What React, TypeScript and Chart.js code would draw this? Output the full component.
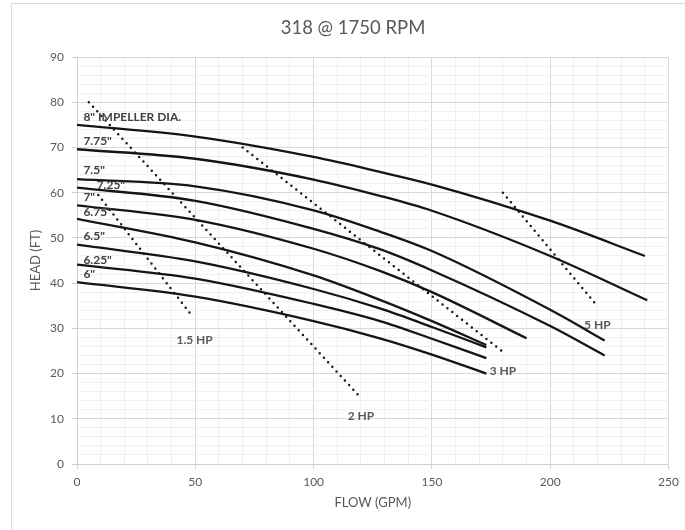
import React, { useEffect, useRef } from "react";
import { Chart, registerables } from "chart.js";

Chart.register(...registerables);

// ---------- text ----------
const TITLE = "318 @ 1750 RPM";
const X_TITLE = "FLOW (GPM)";
const Y_TITLE = "HEAD (FT)";

// ---------- axes ----------
const X_MIN = 0;
const X_MAX = 250;
const X_STEP = 10;
const X_LABEL_EVERY = 50;
const Y_MIN = 0;
const Y_MAX = 90;
const Y_STEP = 2;
const Y_LABEL_EVERY = 10;

// ---------- impeller curves (flow GPM, head FT) ----------
const flow800 = [0, 50, 100, 128, 150, 200, 240];
const head800 = [75, 72.4, 67.9, 64.6, 61.8, 53.8, 46];

const flow775 = [0, 50, 100, 128, 150, 200, 241];
const head775 = [69.6, 67.5, 62.9, 59.3, 56.0, 46.0, 36.2];

const flow750 = [0, 50, 100, 128, 150, 200, 223];
const head750 = [63, 61.4, 56.1, 51.4, 47.1, 34.1, 27.3];

const flow725 = [0, 50, 100, 128, 150, 200, 223];
const head725 = [61.1, 58.2, 52, 47.5, 42.8, 30.5, 24];

const flow700 = [0, 50, 100, 128, 150, 190];
const head700 = [57.2, 54.0, 47.6, 42.7, 38.0, 27.8];

const flow675 = [0, 50, 100, 128, 150, 173];
const head675 = [54.2, 49, 41.7, 36.3, 31.6, 26.3];

const flow650 = [0, 50, 100, 128, 150, 173];
const head650 = [48.5, 44.8, 38.7, 34.4, 30.3, 25.8];

const flow625 = [0, 50, 100, 128, 150, 173];
const head625 = [44.1, 41, 35.4, 31.6, 27.7, 23.4];

const flow600 = [0, 50, 100, 128, 150, 173];
const head600 = [40.2, 37, 31.6, 27.8, 24.2, 20];

const impellerFlows = [flow800, flow775, flow750, flow725, flow700, flow675, flow650, flow625, flow600];
const impellerHeads = [head800, head775, head750, head725, head700, head675, head650, head625, head600];
const impellerLabels = ['8" IMPELLER DIA.', '7.75"', '7.5"', '7.25"', '7"', '6.75"', '6.5"', '6.25"', '6"'];
const impellerLabelFlow = [2.7, 2.7, 2.7, 8.3, 2.7, 2.7, 2.7, 2.7, 2.7];
const impellerLabelHead = [76.8, 71.4, 65.0, 61.7, 59.0, 55.7, 50.3, 45.1, 41.9];

// ---------- horsepower lines ----------
const hp15Flow = [9, 48.7];
const hp15Head = [59.5, 32.7];
const hp2Flow = [5, 119.3];
const hp2Head = [80, 15];
const hp3Flow = [70, 180];
const hp3Head = [70, 24.8];
const hp5Flow = [180, 219];
const hp5Head = [60, 35.5];

const hpFlows = [hp15Flow, hp2Flow, hp3Flow, hp5Flow];
const hpHeads = [hp15Head, hp2Head, hp3Head, hp5Head];
const hpLabels = ["1.5 HP", "2 HP", "3 HP", "5 HP"];
const hpLabelFlow = [49.7, 120, 180, 219.9];
const hpLabelHead = [27.4, 10.6, 20.6, 30.7];

const FONT = "Lato, 'Open Sans', sans-serif";

const textPlugin = {
  id: "pumpText",
  afterDatasetsDraw(chart: any) {
    const { ctx, scales, chartArea } = chart;
    const xs = scales.x;
    const ys = scales.y;
    ctx.save();
    // impeller labels
    ctx.font = `bold 12px ${FONT}`;
    ctx.fillStyle = "#404040";
    ctx.textAlign = "left";
    ctx.textBaseline = "middle";
    impellerLabels.forEach((t, i) => {
      ctx.fillText(t, xs.getPixelForValue(impellerLabelFlow[i]), ys.getPixelForValue(impellerLabelHead[i]));
    });
    // hp labels
    ctx.fillStyle = "#595959";
    ctx.textAlign = "center";
    hpLabels.forEach((t, i) => {
      ctx.fillText(t, xs.getPixelForValue(hpLabelFlow[i]), ys.getPixelForValue(hpLabelHead[i]));
    });
    // titles
    ctx.fillStyle = "#595959";
    ctx.font = `18.5px ${FONT}`;
    ctx.textAlign = "center";
    ctx.textBaseline = "middle";
    ctx.fillText(TITLE, 353, 28);
    ctx.font = `13px ${FONT}`;
    ctx.fillText(X_TITLE, (chartArea.left + chartArea.right) / 2, 503);
    ctx.translate(36, (chartArea.top + chartArea.bottom) / 2);
    ctx.rotate(-Math.PI / 2);
    ctx.fillText(Y_TITLE, 0, 0);
    ctx.restore();
  },
};

export default function App() {
  const ref = useRef<HTMLCanvasElement | null>(null);

  useEffect(() => {
    if (!ref.current) return;
    const datasets: any[] = [];
    impellerFlows.forEach((fl, i) => {
      datasets.push({
        label: impellerLabels[i],
        data: fl.map((x, j) => ({ x, y: impellerHeads[i][j] })),
        borderColor: "#151515",
        borderWidth: 2.3,
        pointRadius: 0,
        cubicInterpolationMode: "monotone",
        fill: false,
      });
    });
    hpFlows.forEach((fl, i) => {
      datasets.push({
        label: hpLabels[i],
        data: fl.map((x, j) => ({ x, y: hpHeads[i][j] })),
        borderColor: "#1a1a1a",
        borderWidth: 2.5,
        borderDash: [0, 6.2],
        borderCapStyle: "round",
        pointRadius: 0,
        fill: false,
      });
    });

    const majorX = (v: number) => v % X_LABEL_EVERY === 0;
    const majorY = (v: number) => v % Y_LABEL_EVERY === 0;

    const chart = new Chart(ref.current, {
      type: "line",
      data: { datasets },
      plugins: [textPlugin],
      options: {
        animation: false,
        responsive: false,
        devicePixelRatio: 1,
        layout: { padding: { left: 0, top: 57, right: 15, bottom: 0 } },
        plugins: { legend: { display: false }, title: { display: false }, tooltip: { enabled: false } },
        scales: {
          x: {
            type: "linear",
            min: X_MIN,
            max: X_MAX,
            afterFit: (s: any) => { s.height = 66; },
            ticks: {
              stepSize: X_STEP,
              autoSkip: false,
              maxRotation: 0,
              padding: 6,
              color: "#595959",
              font: { family: FONT, size: 12 },
              callback: (v: any) => (majorX(Number(v)) ? String(v) : ""),
            },
            grid: {
              color: (c: any) => (majorX(c.tick.value) ? "#d9d9d9" : "#f0f0f0"),
              tickColor: (c: any) => (majorX(c.tick.value) ? "#d0d0d0" : "rgba(0,0,0,0)"),
              tickLength: 5,
            },
            border: { color: "#d0d0d0" },
          },
          y: {
            type: "linear",
            min: Y_MIN,
            max: Y_MAX,
            afterFit: (s: any) => { s.width = 77; },
            ticks: {
              stepSize: Y_STEP,
              autoSkip: false,
              padding: 8,
              color: "#595959",
              font: { family: FONT, size: 12 },
              callback: (v: any) => (majorY(Number(v)) ? String(v) : ""),
            },
            grid: {
              color: (c: any) => (majorY(c.tick.value) ? "#d9d9d9" : "#f0f0f0"),
              tickColor: (c: any) => (majorY(c.tick.value) ? "#d0d0d0" : "rgba(0,0,0,0)"),
              tickLength: 5,
            },
            border: { color: "#d0d0d0" },
          },
        },
      } as any,
    });
    return () => chart.destroy();
  }, []);

  return (
    <div style={{ position: "fixed", left: 0, top: 0, width: 685, height: 530, overflow: "hidden", background: "#fff" }}>
      <div
        style={{
          position: "absolute",
          left: 11,
          top: 3,
          width: 800,
          height: 800,
          borderLeft: "1px solid #d9d9d9",
          borderTop: "1px solid #d9d9d9",
        }}
      />
      <canvas ref={ref} width={685} height={530} style={{ position: "absolute", left: 0, top: 0, width: 685, height: 530 }} />
    </div>
  );
}
